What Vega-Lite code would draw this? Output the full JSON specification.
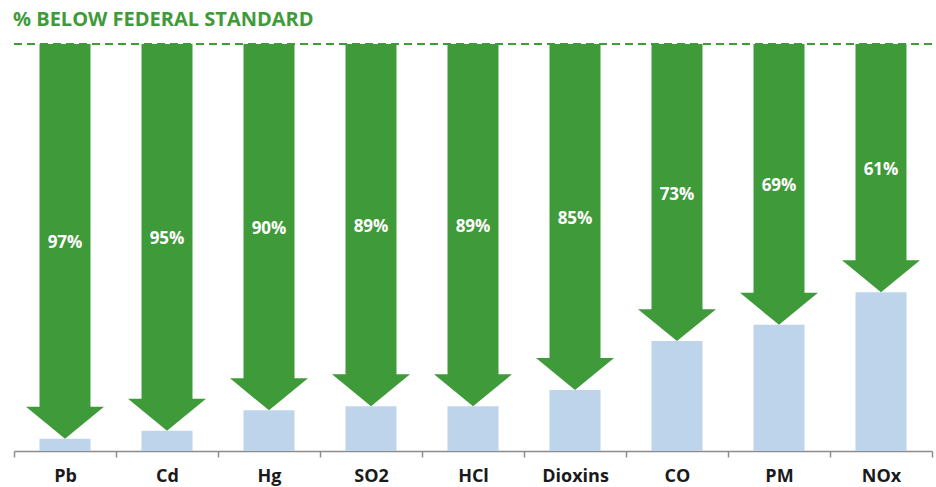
{
  "$schema": "https://vega.github.io/schema/vega-lite/v6.json",
  "width": 918,
  "height": 407,
  "autosize": "none",
  "padding": {"left": 14, "top": 44, "right": 4, "bottom": 36},
  "background": "white",
  "title": {
    "text": "% BELOW FEDERAL STANDARD",
    "anchor": "start",
    "frame": "group",
    "font": "Open Sans",
    "fontSize": 20,
    "fontWeight": "bold",
    "color": "#3F9A3A",
    "offset": 13,
    "dx": -1
  },
  "config": {"view": {"stroke": null}},
  "data": {
    "values": [
      {"pollutant": "Pb", "pct": 97, "level": 3, "label": "97%"},
      {"pollutant": "Cd", "pct": 95, "level": 5, "label": "95%"},
      {"pollutant": "Hg", "pct": 90, "level": 10, "label": "90%"},
      {"pollutant": "SO2", "pct": 89, "level": 11, "label": "89%"},
      {"pollutant": "HCl", "pct": 89, "level": 11, "label": "89%"},
      {"pollutant": "Dioxins", "pct": 85, "level": 15, "label": "85%"},
      {"pollutant": "CO", "pct": 73, "level": 27, "label": "73%"},
      {"pollutant": "PM", "pct": 69, "level": 31, "label": "69%"},
      {"pollutant": "NOx", "pct": 61, "level": 39, "label": "61%"}
    ]
  },
  "layer": [
    {
      "mark": {"type": "bar", "width": {"band": 0.5}, "color": "#BDD4EB"},
      "encoding": {
        "x": {
          "field": "pollutant",
          "type": "nominal",
          "sort": null,
          "scale": {"paddingInner": 0, "paddingOuter": 0},
          "axis": {
            "title": null,
            "labelAngle": 0,
            "labelFont": "Open Sans",
            "labelFontSize": 18,
            "labelFontWeight": "bold",
            "labelColor": "#1a1a1a",
            "labelPadding": 10,
            "domainColor": "#8c8c8c",
            "domainWidth": 1.5,
            "tickColor": "#8c8c8c",
            "tickWidth": 1.5,
            "tickSize": 6,
            "tickBand": "extent"
          }
        },
        "y": {"field": "level", "type": "quantitative", "scale": {"domain": [0, 100]}, "axis": null}
      }
    },
    {
      "mark": {"type": "bar", "width": {"band": 0.5}, "color": "#3F9A3A", "yOffset": -30, "y2Offset": 0},
      "encoding": {
        "x": {"field": "pollutant", "type": "nominal", "sort": null},
        "y": {"field": "pct", "type": "quantitative", "scale": {"domain": [0, 100], "reverse": true}, "axis": null},
        "y2": {"datum": 0}
      }
    },
    {
      "mark": {"type": "point", "shape": "M-1,-0.82L1,-0.82L0,0Z", "size": 6084, "filled": true, "opacity": 1, "color": "#3F9A3A", "strokeWidth": 0},
      "encoding": {
        "x": {"field": "pollutant", "type": "nominal", "sort": null},
        "y": {"field": "pct", "type": "quantitative", "scale": {"domain": [0, 100], "reverse": true}, "axis": null}
      }
    },
    {
      "mark": {"type": "rule", "color": "#3F9A3A", "strokeDash": [8, 5], "strokeWidth": 2},
      "encoding": {"y": {"datum": 100, "type": "quantitative", "scale": {"domain": [0, 100]}, "axis": null}}
    },
    {
      "mark": {"type": "text", "color": "white", "font": "Open Sans", "fontSize": 17, "fontWeight": "bold", "baseline": "middle", "dy": 2},
      "encoding": {
        "x": {"field": "pollutant", "type": "nominal", "sort": null},
        "y": {"field": "pct", "type": "quantitative", "scale": {"domain": [0, 200], "reverse": true}, "axis": null},
        "text": {"field": "label"}
      }
    }
  ],
  "resolve": {"scale": {"y": "independent"}}
}
